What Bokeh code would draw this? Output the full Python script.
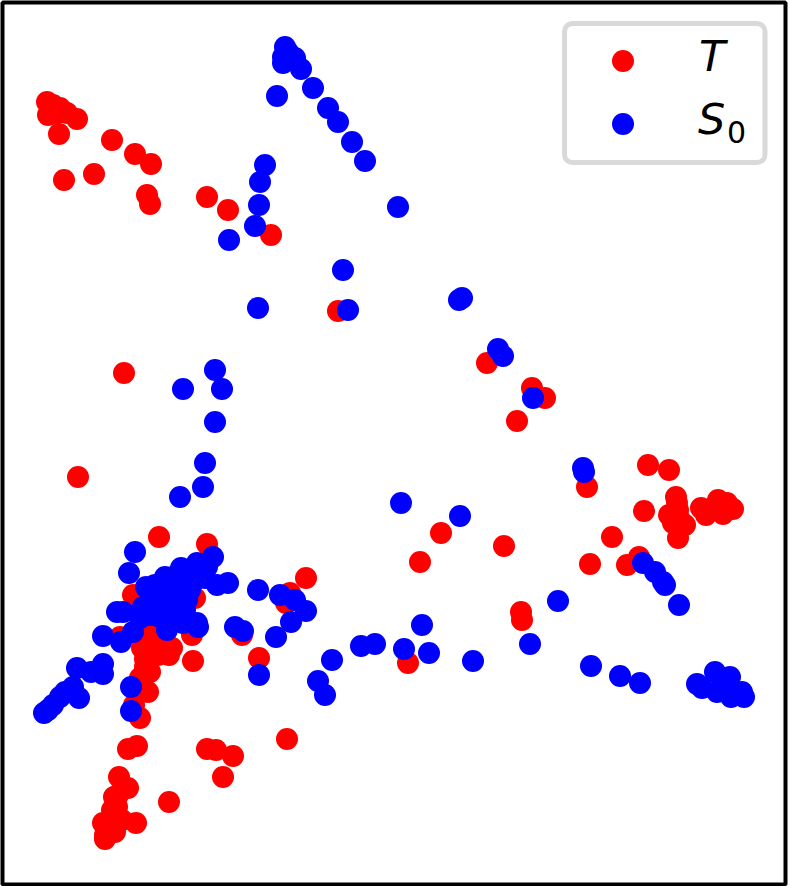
from bokeh.plotting import figure
from bokeh.models import Range1d, BoxAnnotation
from bokeh.core.properties import value
from bokeh.embed import file_html
from bokeh.resources import INLINE

t_x = [47,48,50,53,57,60,67,77,59,112,135,151,94,64,147,150,207,228,271,338,487,532,545,517,124,78,
       441,504,420,306,290,286,292,521,522,408,259,242,195,587,648,669,676,644,612,590,627,639,678,669,
       678,685,680,701,706,718,723,727,733,713,677,673,159,207,133,192,120,193,169,172,145,142,153,140,
       148,134,140,150,163,147,145,128,137,207,216,233,223,287,169,119,128,114,118,112,117,136,103,105,
       105,115,110,122,117,188,150,160,155,160,148,150,165,158]
t_y = [102,115,113,105,113,108,113,119,134,140,154,164,174,180,195,204,197,210,235,311,363,388,398,421,373,477,
       533,546,562,578,593,603,598,612,620,663,658,635,598,487,465,470,497,511,537,564,565,557,538,515,
       510,525,520,508,515,500,514,503,509,508,503,523,537,544,595,635,637,661,655,648,659,648,637,678,
       692,705,718,630,637,640,667,749,746,749,750,756,777,739,802,777,788,797,795,810,807,823,823,835,
       839,832,827,820,817,590,620,625,650,645,660,672,640,655]
s_x = [285,283,283,295,288,301,313,277,328,338,352,365,265,260,259,398,255,229,343,258,348,459,462,498,503,215,
       222,183,533,215,205,203,180,583,584,401,460,643,655,663,665,679,697,715,730,702,717,731,744,742,
       723,737,558,591,620,640,530,473,429,422,404,375,361,332,318,325,259,258,280,295,306,291,276,235,
       243,135,129,146,165,181,197,213,207,217,228,117,123,103,121,133,167,197,198,183,160,177,153,170,
       187,143,163,180,190,200,173,153,167,177,183,77,91,103,103,73,79,60,53,48,44,65,131,131,
       150,160,175,185,150,140,165,155,170,190,195,205]
s_y = [47,57,63,58,52,69,88,96,108,122,142,161,165,182,205,207,226,240,270,308,310,300,298,349,356,370,
       389,389,398,422,463,487,497,468,472,503,516,563,572,582,585,605,684,672,677,688,692,697,697,692,
       683,693,601,666,676,683,644,661,653,625,649,644,646,660,681,695,675,590,595,600,611,622,637,627,
       631,552,573,587,577,568,563,557,567,585,583,612,612,636,642,632,630,623,627,623,617,613,607,603,
       600,607,590,583,577,573,577,593,597,593,597,668,672,664,674,687,698,697,705,710,713,692,687,711,
       600,600,605,610,615,618,610,585,585,590,580,578]
legend_labels = ["T", "S"]
legend_subscript = ["0"]

p = figure(width=790, height=886, output_backend="svg", toolbar_location=None,
           x_range=Range1d(2.5, 785.5), y_range=Range1d(884.5, 2.5),
           min_border_left=2, min_border_right=5, min_border_top=2, min_border_bottom=2,
           styles={"position": "absolute", "left": "0px", "top": "0px"})
p.axis.visible = False
p.grid.visible = False
p.outline_line_color = "black"
p.outline_line_alpha = 1
p.outline_line_width = 4
p.background_fill_color = "white"

p.scatter(t_x, t_y, size=22, color="#ff0000", line_color=None)
p.scatter(s_x, s_y, size=22, color="#0000ff", line_color=None)

box = BoxAnnotation(left=564.5, right=765, top=23.5, bottom=162.5, border_radius=8,
                    fill_color="white", fill_alpha=1, line_color="#d9d9d9", line_alpha=1, line_width=5,
                    level="underlay")
p.add_layout(box)
p.scatter([623], [61], size=22, color="#ff0000", line_color=None)
p.scatter([623], [124], size=22, color="#0000ff", line_color=None)
p.text([699, 698], [56, 119], text=legend_labels, text_font=value("DejaVu Sans"),
       text_font_style="italic", text_font_size="43px", text_color="black",
       text_align="left", text_baseline="alphabetic")
p.text([727], [132], text=legend_subscript, text_font=value("DejaVu Sans"),
       text_font_size="30px", text_color="black",
       text_align="left", text_baseline="alphabetic")

open("out.html", "w").write(file_html(p, INLINE))
